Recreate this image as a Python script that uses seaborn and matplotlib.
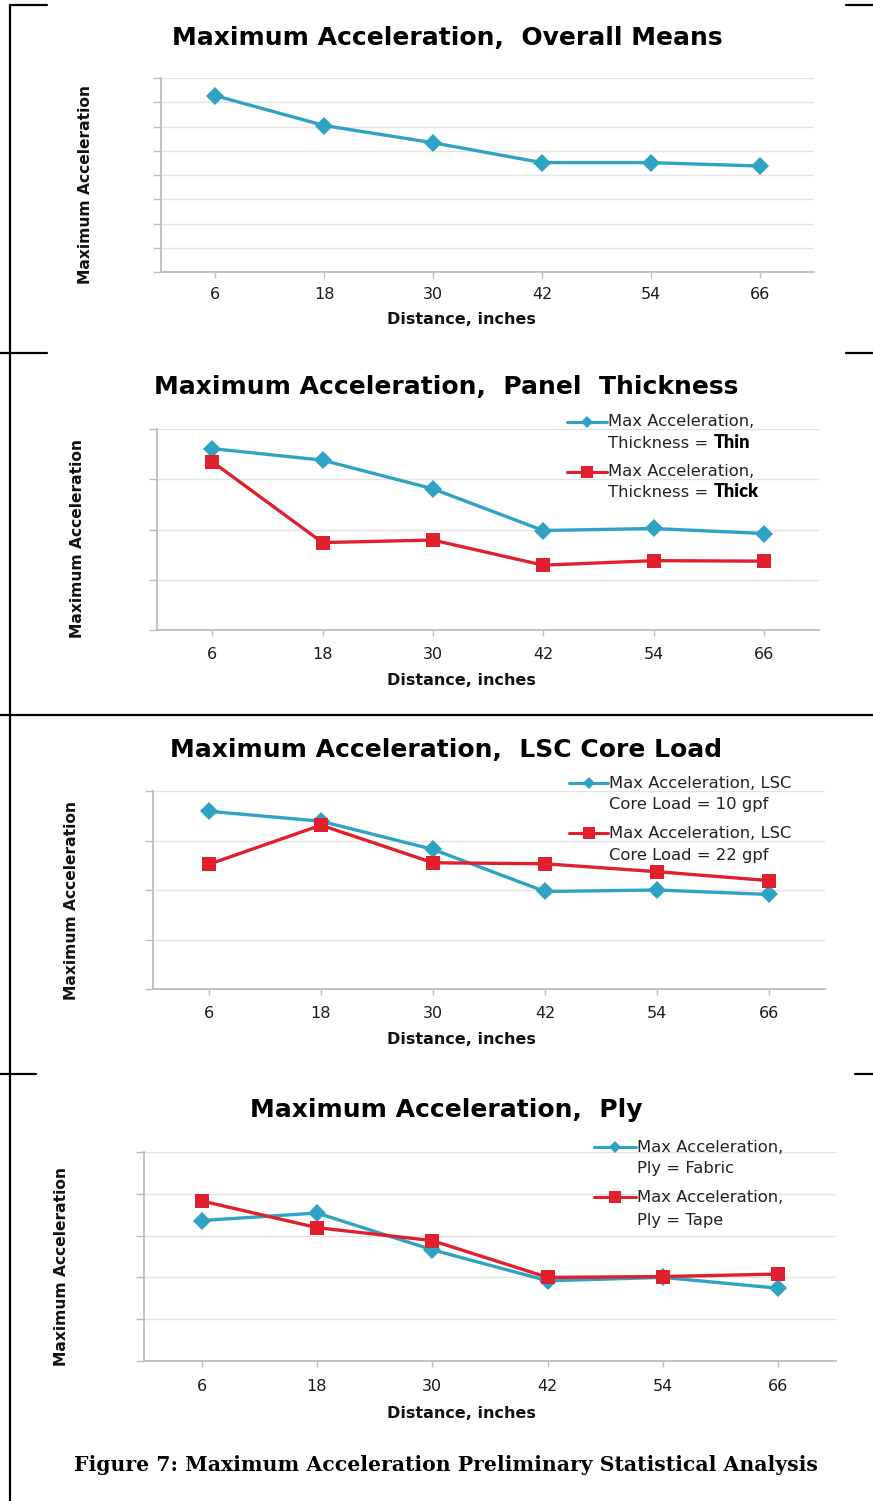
import numpy as np
import matplotlib
matplotlib.use("Agg")
import matplotlib.pyplot as plt
from matplotlib.lines import Line2D
import seaborn as sns

# ---- data -------------------------------------------------------------
distances = ["6", "18", "30", "42", "54", "66"]

overall_means = [7.27, 6.04, 5.33, 4.51, 4.51, 4.37]

thickness_thin = [3.61, 3.38, 2.81, 1.98, 2.02, 1.92]
thickness_thick = [3.35, 1.74, 1.79, 1.29, 1.38, 1.37]

core_load_10 = [3.59, 3.39, 2.82, 1.97, 2.00, 1.91]
core_load_22 = [2.52, 3.31, 2.55, 2.53, 2.37, 2.19]

ply_fabric = [3.36, 3.54, 2.66, 1.92, 2.00, 1.74]
ply_tape = [3.83, 3.19, 2.88, 2.00, 2.02, 2.08]

titles = [
    "Maximum Acceleration,  Overall Means",
    "Maximum Acceleration,  Panel  Thickness",
    "Maximum Acceleration,  LSC Core Load",
    "Maximum Acceleration,  Ply",
]
# each legend entry: (first line, second line, bold suffix on second line)
legend_labels = [
    None,
    [("Max Acceleration,", "Thickness =", "Thin"),
     ("Max Acceleration,", "Thickness =", "Thick")],
    [("Max Acceleration, LSC", "Core Load = 10 gpf", None),
     ("Max Acceleration, LSC", "Core Load = 22 gpf", None)],
    [("Max Acceleration,", "Ply = Fabric", None),
     ("Max Acceleration,", "Ply = Tape", None)],
]
y_label = "Maximum Acceleration"
x_label = "Distance, inches"
caption = "Figure 7: Maximum Acceleration Preliminary Statistical Analysis"

# ---- style ------------------------------------------------------------
sns.set_style("white")
plt.rcParams["font.family"] = ["DejaVu Sans"]

BLUE = "#2FA3C3"
RED = "#E21F2C"
AXIS_GRAY = "#BDBDBD"
GRID_GRAY = "#E3E3E3"
LEGEND_SIZE = 11.8

W, H = 873, 1501
fig = plt.figure(figsize=(W / 100, H / 100), dpi=100)
fig.patch.set_facecolor("white")


def fx(x):
    return x / W


def fy(y):
    return 1 - y / H


def rect(x0, y0, x1, y1):
    return [fx(x0), fy(y1), (x1 - x0) / W, (y1 - y0) / H]


def draw_series(ax, values, color, marker, msize):
    sns.pointplot(x=distances, y=values, order=distances, color=color,
                  markers=marker, linestyles="-", errorbar=None, ax=ax,
                  linewidth=2.4, markersize=msize, markeredgewidth=0)


def style_axes(ax, ymax, pad):
    ax.set_xlim(-0.5, len(distances) - 0.5)
    ax.set_ylim(0, ymax)
    ax.set_yticks(np.arange(ymax + 1))
    ax.yaxis.grid(True, color=GRID_GRAY, linewidth=1.0)
    ax.xaxis.grid(False)
    ax.set_axisbelow(True)
    ax.tick_params(axis="y", left=True, length=6, width=1.0,
                   color=AXIS_GRAY, labelleft=False)
    ax.tick_params(axis="x", bottom=True, length=4, width=1.0,
                   color=AXIS_GRAY, labelsize=11.5, labelcolor="#1a1a1a",
                   pad=pad)
    for s in ("top", "right"):
        ax.spines[s].set_visible(False)
    for s in ("left", "bottom"):
        ax.spines[s].set_color(AXIS_GRAY)
        ax.spines[s].set_linewidth(1.3)
    ax.set_xlabel("")
    ax.set_ylabel("")


def legend_entry(ax, x0, x1, y_first, gap, entry, color, marker, msize):
    first, second, bold = entry
    xs = [fx(x0), fx((x0 + x1) / 2), fx(x1)]
    ys = [fy(y_first)] * 3
    fig.add_artist(Line2D(xs, ys, transform=fig.transFigure, color=color,
                          lw=2.2, marker=marker, markersize=msize,
                          markevery=[1], markeredgewidth=0))
    fig.text(fx(x1 + 1), fy(y_first), first, ha="left", va="center",
             fontsize=LEGEND_SIZE, color="#222222")
    t2 = fig.text(fx(x1 + 1), fy(y_first + gap), second, ha="left",
                  va="center", fontsize=LEGEND_SIZE, color="#222222")
    if bold:
        ax.annotate(bold, xy=(1, 0), xycoords=t2, xytext=(4, 0),
                    textcoords="offset points", ha="left", va="bottom",
                    family="Lato", fontweight="heavy", fontsize=13,
                    color="black", annotation_clip=False)


def panel_text(title_xy, title, xlab_xy, ylab_xy):
    fig.text(fx(title_xy[0]), fy(title_xy[1]), title, ha="center",
             va="center", fontsize=18, fontweight="bold", color="black")
    fig.text(fx(xlab_xy[0]), fy(xlab_xy[1]), x_label, ha="center",
             va="center", fontsize=11.5, fontweight="bold", color="#111111")
    fig.text(fx(ylab_xy[0]), fy(ylab_xy[1]), y_label, ha="center",
             va="center", rotation=90, fontsize=11.2, fontweight="bold",
             color="#111111")


# ---- panel 1: overall means -------------------------------------------
ax1 = fig.add_axes(rect(161, 78, 814, 272))
draw_series(ax1, overall_means, BLUE, "D", 9)
style_axes(ax1, 8, 6.5)
panel_text((447, 38), titles[0], (461, 320), (85, 185))

# ---- panel 2: panel thickness -----------------------------------------
ax2 = fig.add_axes(rect(157, 429, 819, 630))
draw_series(ax2, thickness_thin, BLUE, "D", 9)
draw_series(ax2, thickness_thick, RED, "s", 10.5)
style_axes(ax2, 4, 8)
panel_text((446, 387), titles[1], (461, 680), (78, 538))
legend_entry(ax2, 567, 607, 422, 21, legend_labels[1][0], BLUE, "D", 6.5)
legend_entry(ax2, 567, 607, 472, 21, legend_labels[1][1], RED, "s", 8)

# ---- panel 3: LSC core load -------------------------------------------
ax3 = fig.add_axes(rect(153, 791, 825, 989))
draw_series(ax3, core_load_10, BLUE, "D", 9)
draw_series(ax3, core_load_22, RED, "s", 10.5)
style_axes(ax3, 4, 8.5)
panel_text((446, 750), titles[2], (461, 1040), (72, 900))
legend_entry(ax3, 569, 608, 783, 22, legend_labels[2][0], BLUE, "D", 6.5)
legend_entry(ax3, 569, 608, 833, 22, legend_labels[2][1], RED, "s", 8)

# ---- panel 4: ply -----------------------------------------------------
ax4 = fig.add_axes(rect(144, 1152, 836, 1361))
draw_series(ax4, ply_fabric, BLUE, "D", 9)
draw_series(ax4, ply_tape, RED, "s", 10.5)
style_axes(ax4, 5, 9)
panel_text((446, 1110), titles[3], (461, 1413), (61, 1266))
legend_entry(ax4, 594, 636, 1147, 22, legend_labels[3][0], BLUE, "D", 6.5)
legend_entry(ax4, 594, 636, 1197, 23, legend_labels[3][1], RED, "s", 8)

# ---- caption ----------------------------------------------------------
fig.text(fx(446), fy(1465), caption, ha="center", va="center",
         family="DejaVu Serif", fontweight="bold", fontsize=14.7,
         color="black")

# ---- page frame -------------------------------------------------------
frame_segments = [
    ((10, 10), (5, 1501)),
    ((10, 47), (5, 5)), ((846, 873), (5, 5)),
    ((0, 47), (353, 353)), ((846, 873), (353, 353)),
    ((0, 873), (715, 715)),
    ((0, 36), (1074, 1074)), ((855, 873), (1074, 1074)),
]
for (xa, xb), (ya, yb) in frame_segments:
    fig.add_artist(Line2D([fx(xa), fx(xb)], [fy(ya), fy(yb)],
                          transform=fig.transFigure, color="black", lw=1.6))

fig.savefig("out.png", dpi=100, facecolor="white")
